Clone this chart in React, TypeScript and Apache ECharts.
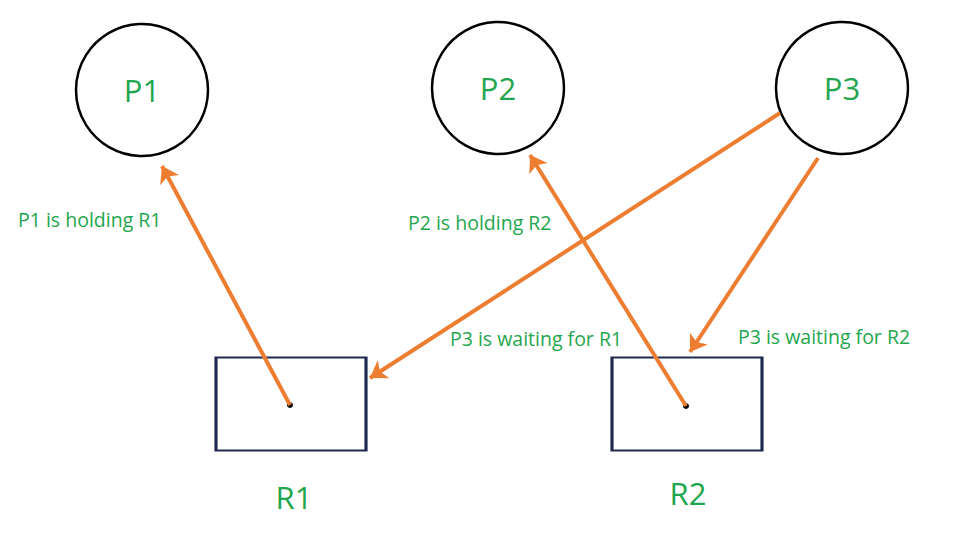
import React, { useEffect, useRef } from 'react';
import * as echarts from 'echarts';

const processNames = ['P1', 'P2', 'P3'];
const processPos = [[142, 90], [498, 88], [842, 88]];
const resourceNames = ['R1', 'R2'];
const resourceBoxPos = [[291, 404], [687, 404]];
const resourceLabelPos = [[294, 497], [688, 493]];
const dotPos = [[290, 405], [686, 406]];
const edges = [
    [[290, 405], [162, 166]],
    [[686, 406], [530, 155]],
    [[780, 113], [370, 378]],
    [[818, 158], [690, 352]],
];
const edgeTexts = ['P1 is holding R1', 'P2 is holding R2', 'P3 is waiting for R1', 'P3 is waiting for R2'];
const edgeTextPos = [[18, 219], [408, 222], [450, 338], [738, 336]];

const GREEN = '#1fa64e';
const ORANGE = '#ed7d31';

const App: React.FC = () => {
    const chartRef = useRef<HTMLDivElement | null>(null);

    useEffect(() => {
        document.body.style.margin = '0';
        if (!chartRef.current) return;
        const myChart = echarts.init(chartRef.current, null, { renderer: 'svg' });

        const option = {
            animation: false,
            backgroundColor: '#fff',
            grid: { left: 0, top: 0, right: 0, bottom: 0 },
            xAxis: { type: 'value', min: 0, max: 968, show: false },
            yAxis: { type: 'value', min: 0, max: 542, inverse: true, show: false },
            series: [
                {
                    type: 'scatter',
                    symbol: 'rect',
                    symbolSize: [150, 93],
                    itemStyle: { color: '#fff', borderColor: '#1f2a4f', borderWidth: 2.5, opacity: 1 },
                    data: resourceBoxPos,
                    z: 1,
                },
                {
                    type: 'scatter',
                    symbolSize: 0,
                    itemStyle: { opacity: 1 },
                    label: {
                        show: true, position: 'inside', color: GREEN, fontSize: 31,
                        fontFamily: 'Open Sans', formatter: (p: any) => resourceNames[p.dataIndex],
                    },
                    data: resourceLabelPos,
                },
                {
                    type: 'scatter',
                    symbolSize: 132,
                    itemStyle: { color: '#fff', borderColor: '#000', borderWidth: 2.5, opacity: 1 },
                    label: {
                        show: true, position: 'inside', color: GREEN, fontSize: 31,
                        fontFamily: 'Open Sans', formatter: (p: any) => processNames[p.dataIndex],
                    },
                    data: processPos,
                    z: 1,
                },
                {
                    type: 'scatter',
                    symbolSize: 6,
                    itemStyle: { color: '#000', opacity: 1 },
                    data: dotPos,
                    z: 3,
                },
                {
                    type: 'lines',
                    coordinateSystem: 'cartesian2d',
                    symbol: ['none', 'arrow'],
                    symbolSize: 16,
                    lineStyle: { color: ORANGE, width: 4, opacity: 1 },
                    data: edges.map(c => ({ coords: c })),
                    z: 4,
                },
                {
                    type: 'scatter',
                    symbolSize: 0,
                    itemStyle: { opacity: 1 },
                    label: {
                        show: true, position: 'right', distance: 0, color: GREEN, fontSize: 19.5,
                        fontFamily: 'Open Sans', formatter: (p: any) => edgeTexts[p.dataIndex],
                    },
                    data: edgeTextPos,
                    z: 5,
                },
            ],
        };

        myChart.setOption(option);
        return () => {
            myChart.dispose();
        };
    }, []);

    return <div ref={chartRef} style={{ width: '968px', height: '542px' }} />;
};

export default App;
